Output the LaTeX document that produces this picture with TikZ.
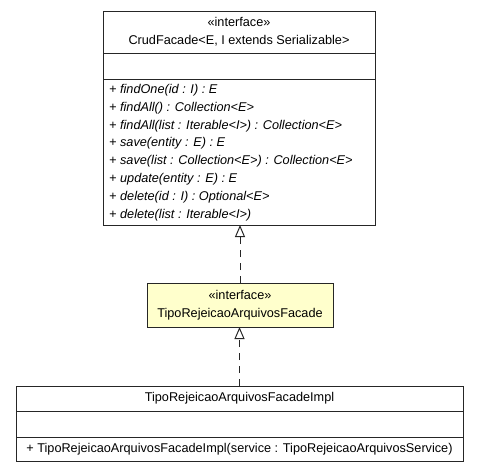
\documentclass[tikz,border=0pt]{standalone}
\usepackage{fontspec}
\setmainfont{Liberation Sans}
\usepackage{xcolor}
\usetikzlibrary{arrows.meta}

\definecolor{facadeyellow}{HTML}{FFFFCC}

\begin{document}
\begin{tikzpicture}[x=1pt, y=-1pt, >={Triangle[open, length=12pt, width=10pt]},
    part/.style={draw=black!85, line width=1pt, inner sep=0pt, outer sep=0pt, anchor=north west},
    oper/.style={anchor=base west, inner sep=0pt, font=\itshape},
    realize/.style={->, draw=black!85, line width=1pt, dash pattern=on 7pt off 6pt}]
    \useasboundingbox (0,0) rectangle (479,472);
    \fontsize{12.7}{17.8}\selectfont

    % interface CrudFacade
    \node[part, minimum width=272pt, minimum height=42pt, align=center] (crudHead) at (103,11)
        {«interface»\\CrudFacade<E, I extends Serializable>};
    \node[part, minimum width=272pt, minimum height=26pt] (crudAttr) at (crudHead.south west) {};
    \node[part, minimum width=272pt, minimum height=146pt] (crudOps) at (crudAttr.south west) {};

    % metodos de CrudFacade
    \foreach \m [count=\i] in {{findOne(id : I) : E}, {findAll() : Collection<E>},
        {findAll(list : Iterable<I>) : Collection<E>}, {save(entity : E) : E},
        {save(list : Collection<E>) : Collection<E>}, {update(entity : E) : E},
        {delete(id : I) : Optional<E>}, {delete(list : Iterable<I>)}}
        \node[oper] (op\i) at (109, 75.7+17.8*\i) {+ \m};

    % interface TipoRejeicaoArquivosFacade
    \node[part, fill=facadeyellow, minimum width=186pt, minimum height=44pt, align=center] (tipoFacade) at (147,283)
        {«interface»\\TipoRejeicaoArquivosFacade};

    % classe TipoRejeicaoArquivosFacadeImpl
    \node[part, minimum width=447pt, minimum height=25pt] (implHead) at (16,386) {TipoRejeicaoArquivosFacadeImpl};
    \node[part, minimum width=447pt, minimum height=26pt] (implAttr) at (implHead.south west) {};
    \node[part, minimum width=447pt, minimum height=24pt] (implOps) at (implAttr.south west)
        {+ TipoRejeicaoArquivosFacadeImpl(service : TipoRejeicaoArquivosService)};

    % realizacoes
    \draw[realize] (tipoFacade.north) -- (tipoFacade.north |- crudOps.south);
    \draw[realize] (implHead.north) -- (implHead.north |- tipoFacade.south);

\end{tikzpicture}
\end{document}
